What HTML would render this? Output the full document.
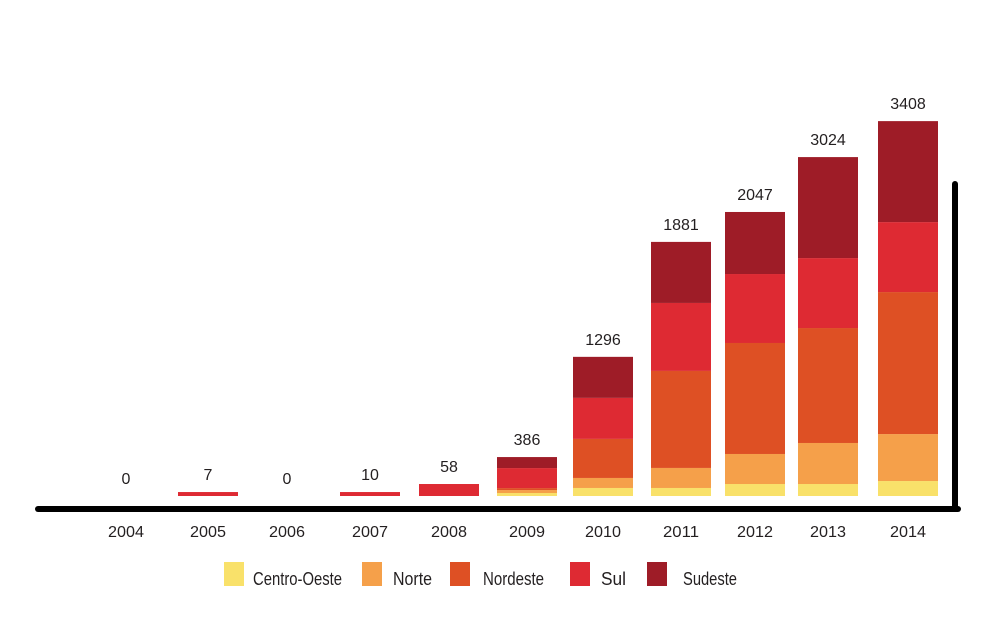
<!DOCTYPE html>
<html><head><meta charset="utf-8">
<style>
html,body{margin:0;padding:0;background:#fff;}
svg text{font-family:"Liberation Sans",sans-serif;fill:#231f20;}
</style></head>
<body>
<svg id="chart" width="992" height="614" viewBox="0 0 992 614" xmlns="http://www.w3.org/2000/svg">
<g id="bars"></g>
<line x1="38" y1="509" x2="958" y2="509" stroke="#000" stroke-width="6" stroke-linecap="round"/>
<line x1="955" y1="184" x2="955" y2="509" stroke="#000" stroke-width="6" stroke-linecap="round"/>
<g id="legend"></g>
</svg>
<script>
const years = ["2004","2005","2006","2007","2008","2009","2010","2011","2012","2013","2014"];
const totals = ["0","7","0","10","58","386","1296","1881","2047","3024","3408"];
const centroOeste = [0,0,0,0,0,27,73,73,109,109,136];
const norte = [0,0,0,0,0,27,91,182,273,373,427];
const nordeste = [0,0,0,0,0,18,355,882,1009,1045,1291];
const sul = [0,36,0,36,109,182,373,618,627,636,636];
const sudeste = [0,0,0,0,0,100,373,555,564,918,918];
const seriesNames = ["Centro-Oeste","Norte","Nordeste","Sul","Sudeste"];
const seriesColors = ["#f9e16a","#f5a04a","#de5024","#de2a33","#9e1c27"];
const series = [centroOeste, norte, nordeste, sul, sudeste];

const NS = "http://www.w3.org/2000/svg";
const baseY = 496, k = 0.11;
const slotX = [126, 208, 287, 370, 449, 527, 603, 681, 755, 828, 908];
function xCenter(i){ return slotX[i]; }
function yScale(v){ return baseY - v*k; }
const barW = 60;
const g = document.getElementById('bars');
years.forEach((yr, i) => {
  let cum = 0;
  const cx = xCenter(i);
  series.forEach((s, si) => {
    const v = s[i];
    if (v <= 0) return;
    const r = document.createElementNS(NS,'rect');
    r.setAttribute('x', cx - barW/2);
    r.setAttribute('y', yScale(cum + v));
    r.setAttribute('width', barW);
    r.setAttribute('height', yScale(cum) - yScale(cum + v));
    r.setAttribute('fill', seriesColors[si]);
    
    
    g.appendChild(r);
    cum += v;
  });
  const t = document.createElementNS(NS,'text');
  t.setAttribute('x', cx);
  t.setAttribute('y', yScale(cum) - 12);
  t.setAttribute('text-anchor','middle');
  t.setAttribute('font-size','16');
  t.textContent = totals[i];
  
  
  g.appendChild(t);
  const yl = document.createElementNS(NS,'text');
  yl.setAttribute('x', cx);
  yl.setAttribute('y', 537);
  yl.setAttribute('text-anchor','middle');
  yl.setAttribute('font-size','16');
  yl.setAttribute('textLength','36');
  yl.setAttribute('lengthAdjust','spacingAndGlyphs');
  yl.textContent = yr;
  
  
  g.appendChild(yl);
});
const lg = document.getElementById('legend');
const legX = [224, 362, 450, 570, 647];
const legTX = [253, 393, 483, 601, 683];
const legTW = [89, 39, 61, 25, 54];
seriesNames.forEach((n, i) => {
  const r = document.createElementNS(NS,'rect');
  r.setAttribute('x', legX[i]); r.setAttribute('y', 562);
  r.setAttribute('width', 20); r.setAttribute('height', 24);
  r.setAttribute('fill', seriesColors[i]);
  
  
  lg.appendChild(r);
  const t = document.createElementNS(NS,'text');
  t.setAttribute('x', legTX[i]); t.setAttribute('y', 585);
  t.setAttribute('font-size','18');
  t.setAttribute('textLength', legTW[i]);
  t.setAttribute('lengthAdjust','spacingAndGlyphs');
  t.textContent = n;
  
  
  lg.appendChild(t);
});
</script>
</body></html>
